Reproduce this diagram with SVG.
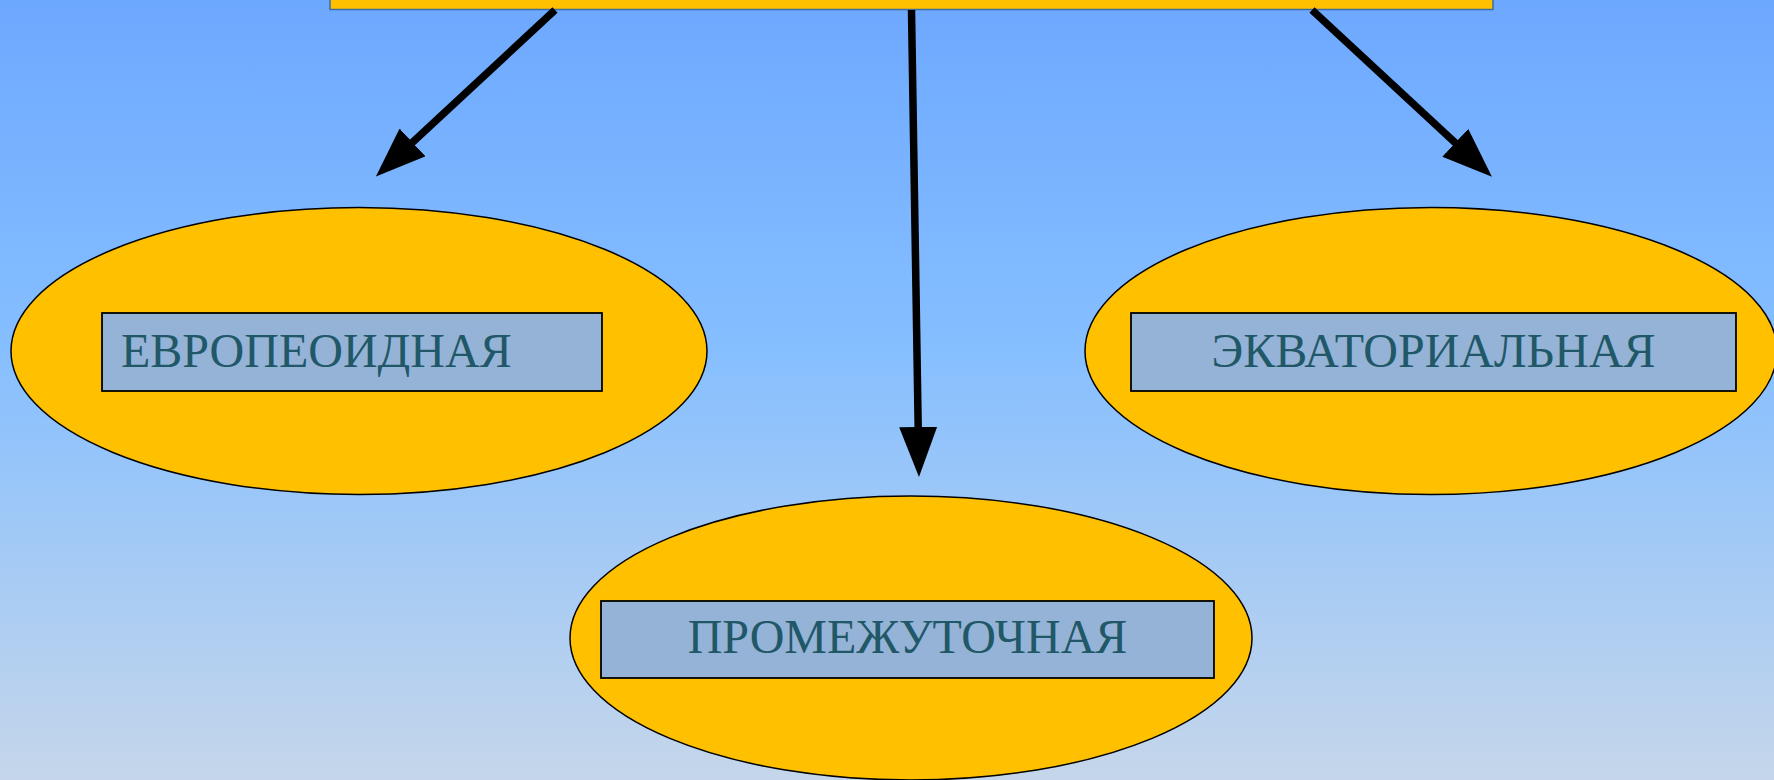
<svg xmlns="http://www.w3.org/2000/svg" width="1774" height="780" viewBox="0 0 1774 780">
  <defs>
    <linearGradient id="bg" x1="0" y1="0" x2="0" y2="1">
      <stop offset="0" stop-color="#6DA8FF"/>
      <stop offset="0.45" stop-color="#86BFFF"/>
      <stop offset="1" stop-color="#C5D6EA"/>
    </linearGradient>
    <marker id="head" markerUnits="userSpaceOnUse" markerWidth="50" markerHeight="38" refX="1" refY="19" orient="auto">
      <path d="M0,0 L50,19 L0,38 z" fill="#000"/>
    </marker>
    <style>
      .oval { fill: #FFC000; stroke: #000; stroke-width: 1.5; }
      .box { fill: #95B3D7; stroke: #000; stroke-width: 1.8; }
      .lbl { font-family: "Liberation Serif", "Times New Roman", serif; font-size: 48px; fill: #215868; }
      .conn { stroke: #000; stroke-width: 7.5; fill: none; marker-end: url(#head); }
    </style>
  </defs>
  <rect x="0" y="0" width="1774" height="780" fill="url(#bg)"/>

  <g id="top">
    <rect x="330" y="-20" width="1163" height="29.5" fill="#FFC000" stroke="#3E6C9E" stroke-width="1.5"/>
  </g>

  <g id="node-europeoid">
    <ellipse class="oval" cx="359" cy="351" rx="348" ry="143.5"/>
    <rect class="box" x="102" y="313" width="500" height="78"/>
    <text class="lbl" x="121" y="367">ЕВРОПЕОИДНАЯ</text>
  </g>

  <g id="node-equatorial">
    <ellipse class="oval" cx="1431" cy="351" rx="346" ry="143.5"/>
    <rect class="box" x="1131" y="313" width="605" height="78"/>
    <text class="lbl" x="1433.5" y="367" text-anchor="middle">ЭКВАТОРИАЛЬНАЯ</text>
  </g>

  <g id="node-intermediate">
    <ellipse class="oval" cx="911" cy="638" rx="341" ry="142"/>
    <rect class="box" x="601" y="601" width="613" height="77"/>
    <text class="lbl" x="907.5" y="653" text-anchor="middle">ПРОМЕЖУТОЧНАЯ</text>
  </g>

  <g id="connectors">
    <line class="conn" x1="555" y1="10" x2="411.8" y2="143.1"/>
    <line class="conn" x1="911.5" y1="10" x2="918.2" y2="428"/>
    <line class="conn" x1="1312" y1="10" x2="1456" y2="143.4"/>
  </g>
</svg>
